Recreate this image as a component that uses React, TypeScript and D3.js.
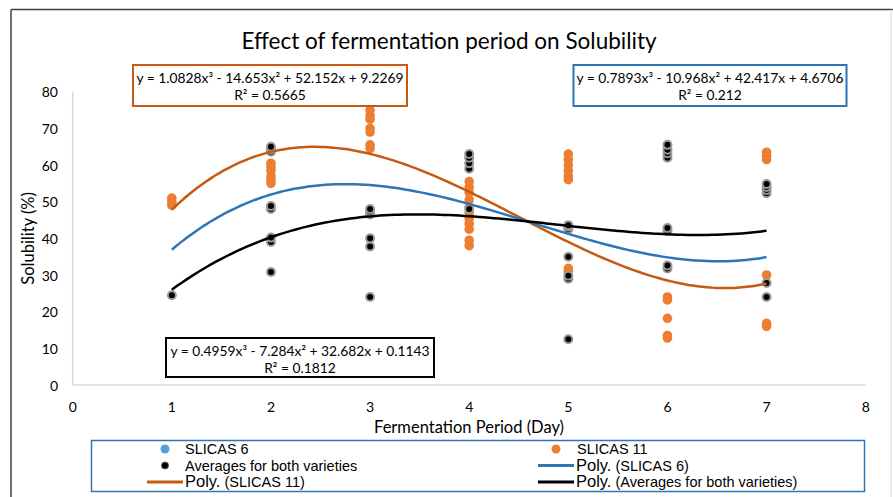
import * as d3 from "d3";

// days on the x axis
const days = [1, 2, 3, 4, 5, 6, 7];

// SLICAS 11 readings, one list per day
const slicas11 = [
  [49, 50, 51],
  [55, 56, 57, 58.5, 59.5, 60.5],
  [64.5, 65.5, 69, 70, 72.5, 73.5, 75],
  [38, 39.5, 42.5, 44, 45.5, 47, 48.5, 50.5, 52.5, 54, 55.5],
  [31, 31.8, 56, 57, 58.5, 60, 61.5, 63],
  [12.8, 13.5, 18.2, 23.2, 24],
  [16, 16.8, 30, 61.5, 62.5, 63.5],
];

// averages for both varieties, one list per day
const averages = [
  [24.5],
  [30.8, 39, 40.2, 48, 48.8, 63.6, 64.3, 65],
  [24, 37.8, 40, 46.5, 47.3, 48],
  [48, 59, 60.5, 62, 63],
  [12.5, 29, 29.8, 35, 42.5, 43.2, 43.6],
  [31.8, 32.6, 42, 42.8, 62, 63.2, 64.2, 65.5],
  [24, 27.8, 52.3, 53.2, 54, 54.8],
];

// trendline coefficients (x^3, x^2, x, 1)
const polySlicas6 = [0.7893, -10.968, 42.417, 4.6706];
const polySlicas11 = [1.0828, -14.653, 52.152, 9.2269];
const polyAverages = [0.4959, -7.284, 32.682, 0.1143];

const xTicks = [0, 1, 2, 3, 4, 5, 6, 7, 8];
const yTicks = [0, 10, 20, 30, 40, 50, 60, 70, 80];

const W = 893;
const H = 497;
const calibri = "Lato, 'Open Sans', sans-serif";
const arial = "'Liberation Sans', Arial, sans-serif";

const C_ORANGE = "#ED7D31";
const C_ORANGE_LINE = "#C55A11";
const C_BLUE = "#5B9BD5";
const C_BLUE_LINE = "#2E75B6";

const x = d3.scaleLinear().domain([0, 8]).range([72.7, 865.7]);
const y = d3.scaleLinear().domain([0, 80]).range([385, 91.7]);

const poly = (c: number[]) => (t: number) => c[0] * t ** 3 + c[1] * t ** 2 + c[2] * t + c[3];

// trendline drawn over the fitted range (day 1 to day 7)
const trendPath = (c: number[]) => {
  const f = poly(c);
  const ts = d3.range(days[0], days[days.length - 1] + 0.0001, 0.05);
  return (
    d3
      .line<number>()
      .x((t) => x(t))
      .y((t) => y(f(t)))
      .curve(d3.curveMonotoneX)(ts) ?? ""
  );
};

const flatten = (groups: number[][]) =>
  groups.flatMap((vals, i) => vals.map((v) => ({ day: days[i], v })));

const EqBox = ({
  x0, y0, w, h, color, eq, r2,
}: { x0: number; y0: number; w: number; h: number; color: string; eq: string; r2: string }) => (
  <g>
    <rect x={x0} y={y0} width={w} height={h} fill="#fff" stroke={color} strokeWidth={2} />
    <text x={x0 + w / 2} y={y0 + 17.5} textAnchor="middle" fontSize={13.8} fontFamily={calibri} fill="#000">
      {eq}
    </text>
    <text x={x0 + w / 2} y={y0 + 35} textAnchor="middle" fontSize={13.8} fontFamily={calibri} fill="#000">
      {r2}
    </text>
  </g>
);

const LegendText = ({ tx, ty, poly: isPoly, label }: { tx: number; ty: number; poly?: boolean; label: string }) => (
  <text x={tx} y={ty + 5} fontFamily={arial} fontSize={14.5} fill="#000">
    {isPoly ? (
      <>
        <tspan fontSize={16.5}>Poly.</tspan>
        <tspan> {label}</tspan>
      </>
    ) : (
      label
    )}
  </text>
);

export default function App() {
  const orangePts = flatten(slicas11);
  const blackPts = flatten(averages);
  const rows = [449, 465.5, 482];

  return (
    <svg
      width={W}
      height={H}
      viewBox={`0 0 ${W} ${H}`}
      style={{ position: "absolute", left: 0, top: 0, background: "#fff" }}
    >
      <rect x={0} y={0} width={W} height={H} fill="#fff" />
      {/* outer frame */}
      <line x1={11} x2={W} y1={9.5} y2={9.5} stroke="#404040" strokeWidth={1.5} />
      <line x1={11} x2={11} y1={9.5} y2={H} stroke="#404040" strokeWidth={1.5} />
      <line x1={891} x2={891} y1={9.5} y2={H} stroke="#d4d4d4" strokeWidth={1} />

      <text x={449} y={40} textAnchor="middle" dominantBaseline="central" fontSize={22.5} fontFamily={calibri} fill="#000">
        Effect of fermentation period on Solubility
      </text>

      {/* axes */}
      <line x1={x(0)} x2={x(8)} y1={y(0)} y2={y(0)} stroke="#d9d9d9" strokeWidth={1.5} />
      <line x1={x(0)} x2={x(0)} y1={y(0)} y2={y(80)} stroke="#d9d9d9" strokeWidth={1.5} />
      {yTicks.map((t) => (
        <text key={t} x={58} y={y(t)} textAnchor="end" dominantBaseline="central" fontSize={14} fontFamily={calibri} fill="#000">
          {t}
        </text>
      ))}
      {xTicks.map((t) => (
        <text key={t} x={x(t)} y={406} textAnchor="middle" dominantBaseline="central" fontSize={14} fontFamily={calibri} fill="#000">
          {t}
        </text>
      ))}
      <text
        transform={`translate(28, ${y(40)}) rotate(-90)`}
        textAnchor="middle"
        dominantBaseline="central"
        fontSize={16.5}
        fontFamily={calibri}
        fill="#000"
      >
        Solubility (%)
      </text>
      <text x={469} y={427} textAnchor="middle" dominantBaseline="central" fontSize={16.5} fontFamily={calibri} fill="#000">
        Fermentation Period (Day)
      </text>

      {/* points */}
      {orangePts.map((p, i) => (
        <circle key={`o${i}`} cx={x(p.day)} cy={y(p.v)} r={4.8} fill={C_ORANGE} />
      ))}
      {blackPts.map((p, i) => (
        <circle key={`b${i}`} cx={x(p.day)} cy={y(p.v)} r={4} fill="#000" stroke="#9a9a9a" strokeWidth={2} />
      ))}

      {/* trendlines */}
      <path d={trendPath(polySlicas11)} fill="none" stroke={C_ORANGE_LINE} strokeWidth={2.5} />
      <path d={trendPath(polySlicas6)} fill="none" stroke={C_BLUE_LINE} strokeWidth={2.5} />
      <path d={trendPath(polyAverages)} fill="none" stroke="#000" strokeWidth={2.5} />

      {/* equation labels */}
      <EqBox x0={133} y0={65} w={274} h={41} color={C_ORANGE_LINE} eq="y = 1.0828x³ - 14.653x² + 52.152x + 9.2269" r2="R² = 0.5665" />
      <EqBox x0={573.5} y0={65} w={273} h={41} color={C_BLUE_LINE} eq="y = 0.7893x³ - 10.968x² + 42.417x + 4.6706" r2="R² = 0.212" />
      <EqBox x0={166} y0={338} w={268} h={39} color="#000" eq="y = 0.4959x³ - 7.284x² + 32.682x + 0.1143" r2="R² = 0.1812" />

      {/* legend */}
      <rect x={91.5} y={440.5} width={773} height={51} fill="#fff" stroke={C_BLUE_LINE} strokeWidth={1.5} />
      <circle cx={165} cy={rows[0]} r={4.5} fill={C_BLUE} />
      <LegendText tx={185} ty={rows[0]} label="SLICAS 6" />
      <circle cx={165} cy={rows[1]} r={3.5} fill="#000" stroke="#555" strokeWidth={1} />
      <LegendText tx={185} ty={rows[1]} label="Averages for both varieties" />
      <line x1={147} x2={183} y1={rows[2]} y2={rows[2]} stroke={C_ORANGE_LINE} strokeWidth={3} />
      <LegendText tx={185} ty={rows[2]} poly label="(SLICAS 11)" />

      <circle cx={556} cy={rows[0]} r={4.5} fill={C_ORANGE} />
      <LegendText tx={577} ty={rows[0]} label="SLICAS 11" />
      <line x1={538} x2={574} y1={rows[1]} y2={rows[1]} stroke={C_BLUE_LINE} strokeWidth={3} />
      <LegendText tx={576} ty={rows[1]} poly label="(SLICAS 6)" />
      <line x1={538} x2={574} y1={rows[2]} y2={rows[2]} stroke="#000" strokeWidth={3} />
      <LegendText tx={576} ty={rows[2]} poly label="(Averages for both varieties)" />
    </svg>
  );
}
